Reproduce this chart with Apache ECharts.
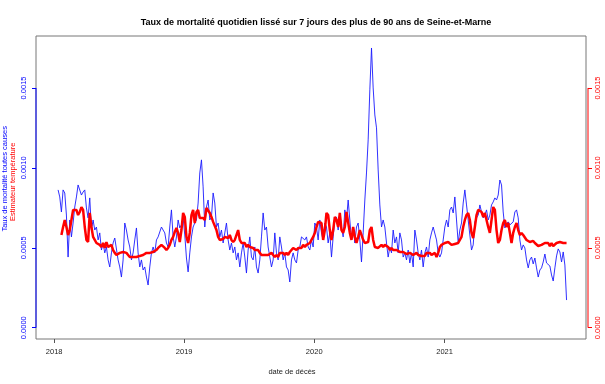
<!DOCTYPE html>
<html><head><meta charset="utf-8">
<script src="https://cdn.jsdelivr.net/npm/echarts@6/dist/echarts.min.js"></script>
<style>html,body{margin:0;padding:0;background:#fff}#c{width:605px;height:384px}</style>
</head><body><div id="c"></div>
<script>
const chartTitle = 'Taux de mortalité quotidien lissé sur 7 jours des plus de 90 ans de Seine-et-Marne';
const xTitle = 'date de décès';
const yTitleBlue = 'Taux de mortalité toutes causes';
const yTitleRed = 'Estimateur température';
const yearTicks = ['2018-01-01', '2019-01-01', '2020-01-01', '2021-01-01'];
const yTicks = [0, 0.0005, 0.0010, 0.0015];
const xRange = ['2017-11-11', '2022-02-02'];
const yRange = [-0.0000707, 0.001825];
const seriesStart = '2018-01-12';
const stepDays = 4.68;

const mortalite = [
0.000862,0.000818,0.000724,0.000862,0.000843,0.000705,0.000442,0.000674,0.000568,0.000655,
0.000755,0.000818,0.000893,0.000887,0.000830,0.000849,0.000862,0.000749,0.000687,0.000812,
0.000611,0.000674,0.000611,0.000630,0.000549,0.000593,0.000486,0.000530,0.000468,0.000505,
0.000424,0.000380,0.000468,0.000530,0.000561,0.000549,0.000424,0.000380,0.000317,0.000424,
0.000655,0.000611,0.000549,0.000505,0.000424,0.000468,0.000549,0.000624,0.000468,0.000380,
0.000424,0.000361,0.000380,0.000317,0.000267,0.000380,0.000468,0.000505,0.000468,0.000549,
0.000568,0.000568,0.000630,0.000611,0.000593,0.000530,0.000505,0.000630,0.000737,0.000568,
0.000505,0.000568,0.000674,0.000624,0.000643,0.000687,0.000580,0.000436,0.000349,0.000468,
0.000568,0.000630,0.000655,0.000674,0.000780,0.000968,0.001050,0.000881,0.000630,0.000755,
0.000799,0.000674,0.000693,0.000843,0.000780,0.000630,0.000655,0.000568,0.000611,0.000530,
0.000593,0.000655,0.000549,0.000486,0.000530,0.000468,0.000505,0.000424,0.000468,0.000380,
0.000468,0.000530,0.000442,0.000342,0.000486,0.000568,0.000442,0.000424,0.000505,0.000380,
0.000342,0.000424,0.000568,0.000718,0.000611,0.000630,0.000505,0.000442,0.000380,0.000424,
0.000593,0.000468,0.000424,0.000568,0.000505,0.000424,0.000468,0.000380,0.000361,0.000286,
0.000424,0.000468,0.000424,0.000405,0.000486,0.000505,0.000568,0.000580,0.000549,0.000568,
0.000505,0.000486,0.000549,0.000505,0.000655,0.000630,0.000549,0.000674,0.000593,0.000549,
0.000655,0.000630,0.000530,0.000593,0.000442,0.000568,0.000674,0.000693,0.000611,0.000718,
0.000630,0.000568,0.000737,0.000674,0.000799,0.000674,0.000549,0.000630,0.000530,0.000630,
0.000655,0.000549,0.000411,0.000593,0.000799,0.000968,0.001175,0.001488,0.001750,0.001500,
0.001331,0.001250,0.000987,0.000768,0.000630,0.000674,0.000630,0.000530,0.000442,0.000505,
0.000468,0.000611,0.000530,0.000568,0.000468,0.000593,0.000549,0.000442,0.000468,0.000424,
0.000486,0.000405,0.000468,0.000380,0.000611,0.000549,0.000468,0.000424,0.000486,0.000380,
0.000468,0.000505,0.000442,0.000549,0.000593,0.000630,0.000630,0.000549,0.000468,0.000442,
0.000468,0.000549,0.000630,0.000674,0.000630,0.000737,0.000755,0.000718,0.000818,0.000674,
0.000530,0.000611,0.000655,0.000780,0.000862,0.000768,0.000768,0.000580,0.000486,0.000518,
0.000662,0.000687,0.000705,0.000768,0.000724,0.000687,0.000705,0.000737,0.000674,0.000705,
0.000768,0.000787,0.000812,0.000799,0.000830,0.000924,0.000893,0.000724,0.000624,0.000649,
0.000662,0.000643,0.000643,0.000662,0.000724,0.000737,0.000687,0.000549,0.000486,0.000518,
0.000499,0.000424,0.000374,0.000424,0.000442,0.000399,0.000436,0.000374,0.000317,0.000361,
0.000374,0.000411,0.000461,0.000405,0.000411,0.000386,0.000330,0.000292,0.000374,0.000449,
0.000493,0.000474,0.000411,0.000474,0.000392,0.000173
];

const temperature = [
null,null,0.000580,0.000630,0.000674,0.000630,0.000580,0.000611,0.000674,0.000737,
0.000749,0.000737,0.000705,0.000724,0.000755,0.000737,0.000630,0.000549,0.000536,0.000718,
0.000630,0.000568,0.000549,0.000530,0.000518,0.000518,0.000505,0.000530,0.000499,0.000536,
0.000505,0.000499,0.000518,0.000486,0.000468,0.000455,0.000455,0.000468,0.000468,0.000474,
0.000474,0.000468,0.000455,0.000442,0.000449,0.000442,0.000442,0.000442,0.000442,0.000449,
0.000442,0.000455,0.000455,0.000468,0.000468,0.000468,0.000474,0.000474,0.000474,0.000486,
0.000499,0.000505,0.000518,0.000511,0.000499,0.000486,0.000499,0.000518,0.000549,0.000568,
0.000599,0.000624,0.000593,0.000536,0.000611,0.000718,0.000693,0.000568,0.000530,0.000593,
0.000705,0.000737,0.000655,0.000724,0.000737,0.000687,0.000693,0.000687,0.000674,0.000749,
0.000737,0.000718,0.000693,0.000662,0.000655,0.000611,0.000568,0.000549,0.000549,0.000555,
0.000568,0.000580,0.000561,0.000580,0.000549,0.000536,0.000549,0.000561,0.000611,0.000549,
0.000530,0.000536,0.000530,0.000505,0.000518,0.000505,0.000499,0.000499,0.000486,0.000474,
0.000486,0.000468,0.000455,0.000449,0.000455,0.000449,0.000455,0.000449,0.000468,0.000455,
0.000442,0.000455,0.000442,0.000468,0.000468,0.000468,0.000455,0.000468,0.000455,0.000474,
0.000468,0.000499,0.000505,0.000486,0.000499,0.000505,0.000499,0.000518,0.000505,0.000518,
0.000530,0.000530,0.000549,0.000568,0.000593,0.000630,0.000662,0.000674,0.000655,0.000549,
0.000611,0.000718,0.000705,0.000611,0.000549,0.000611,0.000693,0.000674,0.000630,0.000718,
0.000611,0.000593,0.000630,0.000724,0.000718,0.000593,0.000549,0.000630,0.000568,0.000530,
0.000568,0.000611,0.000599,0.000549,0.000530,0.000530,0.000536,0.000611,0.000630,0.000549,
0.000505,0.000499,0.000499,0.000505,0.000518,0.000505,0.000518,0.000524,0.000505,0.000486,
0.000499,0.000486,0.000480,0.000486,0.000493,0.000474,0.000468,0.000474,0.000468,0.000461,
0.000468,0.000468,0.000461,0.000455,0.000455,0.000468,0.000455,0.000449,0.000449,0.000442,
0.000449,0.000468,0.000474,0.000468,0.000455,0.000455,0.000468,0.000442,0.000468,0.000505,
0.000518,0.000524,0.000530,0.000530,0.000536,0.000524,0.000518,0.000530,0.000524,0.000536,
0.000530,0.000536,0.000568,0.000630,0.000674,0.000705,0.000718,0.000674,0.000593,0.000561,
0.000630,0.000705,0.000737,0.000749,0.000724,0.000693,0.000718,0.000674,0.000630,0.000593,
0.000674,0.000755,0.000737,0.000611,0.000530,0.000549,0.000611,0.000655,0.000674,0.000630,
0.000655,0.000593,0.000530,0.000593,0.000630,0.000655,0.000611,0.000580,0.000593,0.000580,
0.000568,0.000549,0.000549,0.000536,0.000536,0.000543,0.000530,0.000518,0.000511,0.000511,
0.000518,0.000530,0.000530,0.000524,0.000530,0.000511,0.000530,0.000511,0.000518,0.000530,
0.000518,0.000536,0.000530,0.000530,0.000524,0.000530
];

const DAY = 86400000;
const t0 = Date.parse(seriesStart + 'T00:00:00Z');
const ts = s => Date.parse(s + 'T00:00:00Z');
const xMin = ts(xRange[0]), xMax = ts(xRange[1]);
const yearVals = yearTicks.map(ts);
const toPairs = arr => arr.map((v, i) => [t0 + i * stepDays * DAY, v]);
const FONT = "'Liberation Sans', Arial, Helvetica, sans-serif";

const chart = echarts.init(document.getElementById('c'), null, {renderer: 'canvas'});

const yAxisBase = (side, color) => ({
  type: 'value', position: side, min: yRange[0], max: yRange[1],
  offset: side === 'right' ? 2 : 0,
  splitLine: {show: false},
  axisLine: {show: false, onZero: false},
  axisTick: {show: true, length: 4, customValues: yTicks, lineStyle: {color: color, width: 1}},
  axisLabel: {show: true, customValues: yTicks, rotate: 90, margin: side === 'right' ? 6 : 8,
    color: color, fontSize: 7.5, fontFamily: FONT, formatter: v => v.toFixed(4)}
});

chart.setOption({
  animation: false,
  backgroundColor: '#fff',
  title: {text: chartTitle, left: 311, top: 13, textAlign: 'center',
    textStyle: {fontSize: 9, fontWeight: 'bold', color: '#000', fontFamily: FONT}},
  grid: {left: 36, right: 19, top: 36, bottom: 45, show: true, borderColor: '#777', borderWidth: 1, containLabel: false},
  xAxis: {
    type: 'value', min: xMin, max: xMax, position: 'bottom',
    splitLine: {show: false},
    axisLine: {show: false, onZero: false},
    axisTick: {show: true, length: 4, customValues: yearVals, lineStyle: {color: '#555'}},
    axisLabel: {show: true, customValues: yearVals, margin: 9, color: '#222', fontSize: 7.5, fontFamily: FONT,
      formatter: v => String(new Date(v).getUTCFullYear())}
  },
  yAxis: [yAxisBase('left', '#0000ff'), yAxisBase('right', '#ff0000')],
  series: [
    {type: 'line', name: yTitleBlue, data: toPairs(mortalite), xAxisIndex: 0, yAxisIndex: 0,
      showSymbol: false, symbol: 'none', lineStyle: {color: '#1a1aff', width: 0.9}, z: 2},
    {type: 'line', name: yTitleRed, data: toPairs(temperature), xAxisIndex: 0, yAxisIndex: 1,
      showSymbol: false, symbol: 'none', connectNulls: false, lineStyle: {color: '#ff0000', width: 2.5}, z: 3}
  ]
});

const pL0 = chart.convertToPixel({xAxisIndex: 0, yAxisIndex: 0}, [xMin, yTicks[0]]);
const pL1 = chart.convertToPixel({xAxisIndex: 0, yAxisIndex: 0}, [xMin, yTicks[yTicks.length - 1]]);
const pR0 = chart.convertToPixel({xAxisIndex: 0, yAxisIndex: 1}, [xMax, yTicks[0]]);
const pR1 = chart.convertToPixel({xAxisIndex: 0, yAxisIndex: 1}, [xMax, yTicks[yTicks.length - 1]]);
const midY = (pL0[1] + chart.convertToPixel({xAxisIndex: 0, yAxisIndex: 0}, [xMin, yRange[1]])[1]) / 2;

chart.setOption({
  graphic: [
    {type: 'line', shape: {x1: pL0[0], y1: pL0[1], x2: pL1[0], y2: pL1[1]}, style: {stroke: '#0000ff', lineWidth: 1}, z: 10},
    {type: 'line', shape: {x1: pR0[0] + 2, y1: pR0[1], x2: pR1[0] + 2, y2: pR1[1]}, style: {stroke: '#ff0000', lineWidth: 1}, z: 10},
    {type: 'text', x: 5, y: midY - 3, rotation: Math.PI / 2,
      style: {text: yTitleBlue, fill: '#0000ff', fontSize: 7.5, fontFamily: FONT, align: 'center', verticalAlign: 'middle'}},
    {type: 'text', x: 13, y: midY, rotation: Math.PI / 2,
      style: {text: yTitleRed, fill: '#ff0000', fontSize: 7.5, fontFamily: FONT, align: 'center', verticalAlign: 'middle'}},
    {type: 'text', x: 292, y: 372,
      style: {text: xTitle, fill: '#222', fontSize: 7.5, fontFamily: FONT, align: 'center', verticalAlign: 'middle'}}
  ]
});
</script>
</body></html>
